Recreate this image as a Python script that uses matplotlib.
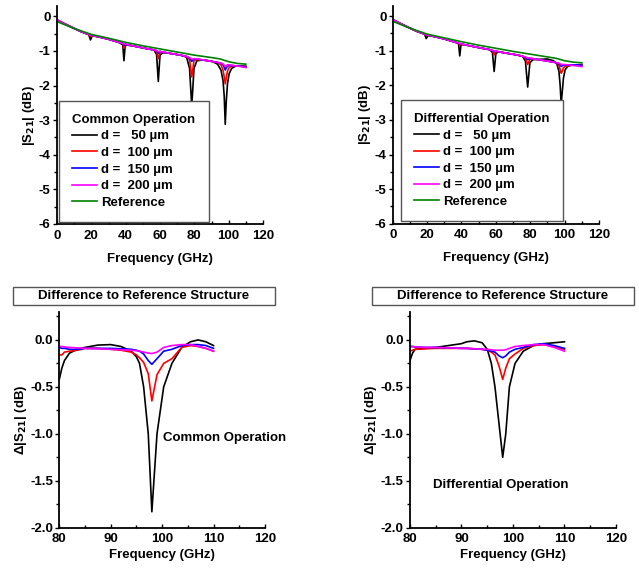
import matplotlib
matplotlib.use("Agg")
import matplotlib.pyplot as plt
from matplotlib.patches import Rectangle
from matplotlib.ticker import MultipleLocator

plt.rcParams['font.family'] = ['Liberation Sans', 'DejaVu Sans']
plt.rcParams['font.weight'] = 'bold'
plt.rcParams['axes.labelweight'] = 'bold'
plt.rcParams['mathtext.default'] = 'bf'
plt.rcParams['axes.unicode_minus'] = False

FS = 9.5

labels = ['d =   50 µm', 'd =  100 µm', 'd =  150 µm', 'd =  200 µm', 'Reference']
colors = ['black', 'red', 'blue', 'magenta', 'green']

# top panels: |S21| vs frequency, full band
f_top = [0, 3, 8, 14, 18.5, 19.5, 20.5, 25, 30, 36, 38.3, 39, 39.7, 41, 46, 52,
         56.5, 58, 59, 60, 61.5, 66, 72, 75.5, 77.2, 78.5, 79.8, 81.5, 85, 90,
         93.5, 95.5, 96.7, 97.4, 98, 98.6, 99.3, 100.3, 101.8, 104, 107, 110]

# common operation
com_50 = [-0.10, -0.18, -0.30, -0.44, -0.53, -0.68, -0.56, -0.60, -0.66, -0.75, -0.82, -1.28, -0.85, -0.83, -0.87, -0.93,
          -0.97, -1.10, -1.88, -1.12, -1.05, -1.07, -1.12, -1.18, -1.50, -2.60, -1.50, -1.28, -1.26, -1.29,
          -1.38, -1.55, -1.85, -2.30, -3.12, -2.45, -1.95, -1.65, -1.50, -1.44, -1.43, -1.44]
com_100 = [-0.10, -0.18, -0.30, -0.44, -0.52, -0.58, -0.55, -0.60, -0.66, -0.75, -0.79, -0.92, -0.81, -0.82, -0.87, -0.93,
           -0.97, -1.02, -1.22, -1.04, -1.03, -1.07, -1.12, -1.16, -1.25, -1.75, -1.28, -1.24, -1.26, -1.30,
           -1.33, -1.40, -1.55, -1.75, -1.95, -1.78, -1.58, -1.48, -1.44, -1.43, -1.44, -1.45]
com_150 = [-0.10, -0.18, -0.30, -0.44, -0.52, -0.54, -0.55, -0.60, -0.66, -0.75, -0.78, -0.84, -0.80, -0.82, -0.87, -0.93,
           -0.97, -0.99, -1.07, -1.01, -1.03, -1.07, -1.12, -1.16, -1.20, -1.30, -1.23, -1.23, -1.26, -1.30,
           -1.33, -1.35, -1.40, -1.47, -1.55, -1.49, -1.44, -1.42, -1.42, -1.43, -1.44, -1.46]
com_200 = [-0.10, -0.18, -0.30, -0.44, -0.52, -0.54, -0.55, -0.60, -0.66, -0.75, -0.78, -0.80, -0.80, -0.82, -0.87, -0.93,
           -0.97, -0.99, -1.02, -1.01, -1.03, -1.07, -1.12, -1.16, -1.19, -1.24, -1.22, -1.23, -1.26, -1.30,
           -1.33, -1.35, -1.37, -1.41, -1.45, -1.43, -1.40, -1.40, -1.41, -1.43, -1.45, -1.48]

# differential operation
dif_50 = [-0.10, -0.18, -0.30, -0.44, -0.52, -0.65, -0.56, -0.60, -0.66, -0.75, -0.80, -1.15, -0.83, -0.82, -0.87, -0.93,
          -0.97, -1.05, -1.60, -1.08, -1.03, -1.07, -1.12, -1.16, -1.30, -2.05, -1.35, -1.26, -1.25, -1.24,
          -1.29, -1.38, -1.60, -2.00, -2.55, -2.20, -1.80, -1.55, -1.45, -1.42, -1.41, -1.40]
dif_100 = [-0.10, -0.18, -0.30, -0.44, -0.52, -0.56, -0.55, -0.60, -0.66, -0.75, -0.78, -0.84, -0.80, -0.82, -0.87, -0.93,
           -0.97, -1.00, -1.12, -1.02, -1.03, -1.07, -1.12, -1.16, -1.22, -1.40, -1.25, -1.23, -1.26, -1.30,
           -1.33, -1.35, -1.42, -1.55, -1.65, -1.60, -1.50, -1.45, -1.43, -1.42, -1.42, -1.42]
dif_150 = [-0.10, -0.18, -0.30, -0.44, -0.52, -0.54, -0.55, -0.60, -0.66, -0.75, -0.78, -0.80, -0.80, -0.82, -0.87, -0.93,
           -0.97, -0.99, -1.03, -1.01, -1.03, -1.07, -1.12, -1.16, -1.19, -1.26, -1.22, -1.23, -1.26, -1.30,
           -1.33, -1.35, -1.37, -1.42, -1.45, -1.44, -1.42, -1.41, -1.41, -1.41, -1.41, -1.42]
dif_200 = [-0.10, -0.18, -0.30, -0.44, -0.52, -0.54, -0.55, -0.60, -0.66, -0.75, -0.78, -0.79, -0.80, -0.82, -0.87, -0.93,
           -0.97, -0.99, -1.01, -1.01, -1.03, -1.07, -1.12, -1.16, -1.18, -1.21, -1.21, -1.23, -1.26, -1.30,
           -1.33, -1.35, -1.36, -1.38, -1.40, -1.40, -1.40, -1.40, -1.41, -1.42, -1.44, -1.46]

f_ref = [0, 5, 10, 20, 30, 40, 50, 60, 70, 80, 90, 95, 100, 105, 110]
ref_com = [-0.15, -0.25, -0.35, -0.52, -0.63, -0.75, -0.85, -0.94, -1.03, -1.12, -1.19, -1.23, -1.31, -1.36, -1.38]
ref_dif = [-0.15, -0.25, -0.35, -0.52, -0.63, -0.74, -0.84, -0.93, -1.02, -1.10, -1.18, -1.22, -1.29, -1.33, -1.35]

# bottom panels: difference to reference, 80-110 GHz
f_dc = [80, 80.5, 81, 82, 83.5, 85, 87.5, 90, 92, 94, 95, 95.6, 96.4, 97.3, 98, 99,
        100.3, 101.9, 103.8, 105.5, 107, 108.5, 110]
dc_50 = [-0.42, -0.30, -0.22, -0.14, -0.10, -0.08, -0.055, -0.05, -0.07, -0.12, -0.18, -0.25, -0.50, -1.00, -1.83, -1.00,
         -0.50, -0.25, -0.08, -0.02, 0.00, -0.02, -0.06]
dc_100 = [-0.16, -0.16, -0.13, -0.12, -0.11, -0.09, -0.09, -0.10, -0.11, -0.13, -0.16, -0.19, -0.24, -0.36, -0.65, -0.37,
          -0.25, -0.20, -0.08, -0.06, -0.07, -0.09, -0.12]
dc_150 = [-0.08, -0.09, -0.09, -0.10, -0.10, -0.09, -0.09, -0.09, -0.095, -0.10, -0.11, -0.12, -0.15, -0.22, -0.26, -0.20,
          -0.12, -0.10, -0.06, -0.05, -0.05, -0.06, -0.09]
dc_200 = [-0.07, -0.07, -0.075, -0.08, -0.085, -0.09, -0.095, -0.10, -0.105, -0.11, -0.115, -0.12, -0.13, -0.14, -0.145, -0.13,
          -0.08, -0.06, -0.05, -0.05, -0.07, -0.09, -0.12]

f_dd = [80, 80.5, 81, 83, 85, 87.5, 90, 91, 92.5, 94, 95, 95.8, 96.5, 97.3, 98, 98.6,
        99.3, 100.4, 102, 104, 106, 108, 110]
dd_50 = [-0.22, -0.14, -0.10, -0.09, -0.08, -0.06, -0.04, -0.02, -0.01, -0.03, -0.10, -0.25, -0.50, -0.90, -1.25, -1.00,
         -0.50, -0.25, -0.12, -0.06, -0.04, -0.03, -0.02]
dd_100 = [-0.12, -0.11, -0.10, -0.095, -0.09, -0.09, -0.09, -0.09, -0.095, -0.10, -0.11, -0.13, -0.16, -0.28, -0.42, -0.30,
          -0.20, -0.15, -0.09, -0.06, -0.05, -0.07, -0.10]
dd_150 = [-0.07, -0.07, -0.075, -0.08, -0.08, -0.085, -0.09, -0.09, -0.095, -0.10, -0.11, -0.12, -0.13, -0.17, -0.19, -0.17,
          -0.13, -0.10, -0.08, -0.05, -0.04, -0.06, -0.09]
dd_200 = [-0.07, -0.07, -0.075, -0.08, -0.08, -0.085, -0.09, -0.09, -0.095, -0.10, -0.10, -0.105, -0.11, -0.11, -0.11, -0.105,
          -0.09, -0.07, -0.06, -0.05, -0.05, -0.08, -0.12]


def style_axes(ax):
    for s in ['top', 'right']:
        ax.spines[s].set_visible(False)
    for s in ['left', 'bottom']:
        ax.spines[s].set_linewidth(1.3)
    ax.tick_params(axis='both', which='both', labelsize=FS, width=1.0)
    ax.tick_params(axis='y', which='major', direction='out', length=3, pad=1.5)
    ax.tick_params(axis='y', which='minor', direction='out', length=2)
    ax.tick_params(axis='x', which='major', direction='in', length=3, pad=4)
    ax.tick_params(axis='x', which='minor', direction='in', length=2)
    for t in ax.get_xticklabels() + ax.get_yticklabels():
        t.set_fontweight('bold')


def top_panel(ax, d_series, ref, title, anchor):
    for y, c, lab in zip(d_series, colors, labels):
        ax.plot(f_top, y, color=c, lw=1.2, label=lab)
    ax.plot(f_ref, ref, color=colors[4], lw=1.2, label=labels[4])
    ax.set_xlim(0, 120)
    ax.set_ylim(-6, 0.3)
    ax.xaxis.set_major_locator(MultipleLocator(20))
    ax.xaxis.set_minor_locator(MultipleLocator(10))
    ax.yaxis.set_major_locator(MultipleLocator(1))
    ax.yaxis.set_minor_locator(MultipleLocator(0.5))
    ax.set_xlabel('Frequency (GHz)', fontsize=FS, fontweight='bold', labelpad=8)
    ax.set_ylabel('|S$_{21}$| (dB)', fontsize=FS, fontweight='bold', labelpad=1)
    leg = ax.legend(loc='lower left', bbox_to_anchor=anchor, borderaxespad=0,
                    title=title, fancybox=False, framealpha=1, edgecolor='#555555',
                    prop={'size': FS, 'weight': 'bold'}, title_fontproperties={'size': FS, 'weight': 'bold'},
                    handlelength=1.9, handletextpad=0.3, labelspacing=0.33, borderpad=1.0)
    leg._legend_box.align = 'left'
    leg.get_frame().set_linewidth(1.0)
    leg.set_zorder(5)
    style_axes(ax)


def bottom_panel(ax, f, series, text, txy):
    for y, c in zip(series, colors):
        ax.plot(f, y, color=c, lw=1.2)
    ax.set_xlim(80, 120)
    ax.set_ylim(-2, 0.3)
    ax.xaxis.set_major_locator(MultipleLocator(10))
    ax.xaxis.set_minor_locator(MultipleLocator(5))
    ax.yaxis.set_major_locator(MultipleLocator(0.5))
    ax.yaxis.set_minor_locator(MultipleLocator(0.25))
    ax.set_xlabel('Frequency (GHz)', fontsize=FS, fontweight='bold', labelpad=3)
    ax.set_ylabel('Δ|S$_{21}$| (dB)', fontsize=FS, fontweight='bold', labelpad=1)
    ax.text(txy[0], txy[1], text, fontsize=FS, fontweight='bold', va='center', ha='left', clip_on=False)
    style_axes(ax)


fig = plt.figure(figsize=(6.39, 5.72), dpi=100)

ax1 = fig.add_axes([0.0892, 0.6084, 0.3224, 0.3811])
ax2 = fig.add_axes([0.6146, 0.6089, 0.3228, 0.3811])
ax3 = fig.add_axes([0.0928, 0.0774, 0.3219, 0.3776])
ax4 = fig.add_axes([0.6416, 0.0774, 0.3224, 0.3776])

top_panel(ax1, [com_50, com_100, com_150, com_200], ref_com, 'Common Operation', (0.01, 0.009))
top_panel(ax2, [dif_50, dif_100, dif_150, dif_200], ref_dif, 'Differential Operation', (0.039, 0.012))

bottom_panel(ax3, f_dc, [dc_50, dc_100, dc_150, dc_200], 'Common Operation', (100.1, -1.045))
bottom_panel(ax4, f_dd, [dd_50, dd_100, dd_150, dd_200], 'Differential Operation', (84.4, -1.54))

# boxed headers above the bottom panels
for x0 in [13 / 639, 372 / 639]:
    w = 262 / 639
    fig.patches.append(Rectangle((x0, 1 - 305 / 572), w, 18 / 572, transform=fig.transFigure,
                                 fill=False, edgecolor='#555555', lw=1.0))
    fig.text(x0 + w / 2, 1 - 296 / 572, 'Difference to Reference Structure',
             ha='center', va='center', fontsize=FS, fontweight='bold')

fig.savefig('out.png', dpi=100)
